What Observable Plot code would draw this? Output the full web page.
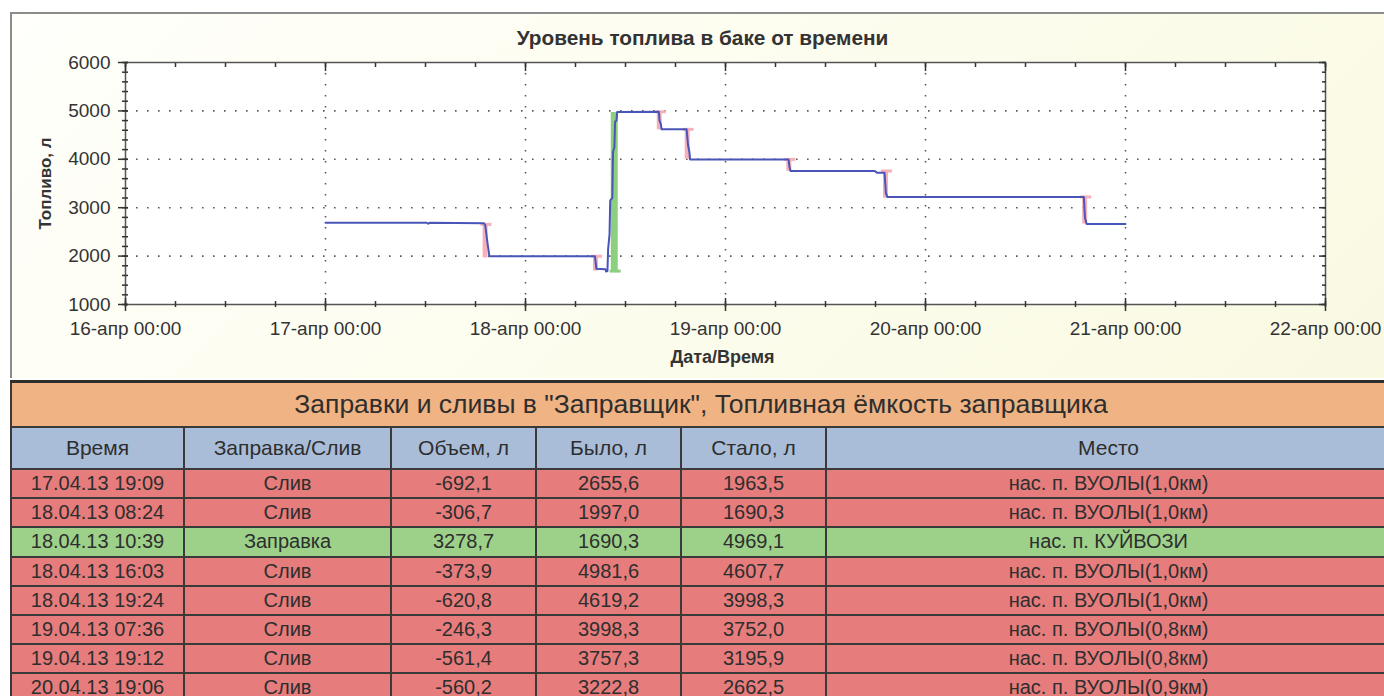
<!DOCTYPE html>
<html>
<head>
<meta charset="utf-8">
<script src="https://cdn.jsdelivr.net/npm/d3@7"></script>
<script src="https://cdn.jsdelivr.net/npm/@observablehq/plot@0.6"></script>
<style>
  html, body { margin: 0; padding: 0; background: #ffffff; }
  body { width: 1384px; height: 696px; position: relative; overflow: hidden; }
  #panel { position: absolute; left: 10px; top: 12px; width: 1380px; height: 366px;
    border-top: 2px solid #8c8c8c; border-left: 2px solid #8c8c8c; box-sizing: border-box;
    background: linear-gradient(135deg, #fffffb 0%, #fcfcec 60%, #f9f9e2 100%); }
  #chart { position: absolute; left: 0; top: 0; }
  #tbl { position: absolute; left: 10px; top: 380px; width: 1380px; border-collapse: collapse;
    table-layout: fixed; font-family: "Liberation Sans", Arial, sans-serif; color: #2e2e2e; }
  #tbl td, #tbl th { border: 2px solid #3a3a3a; padding: 0; text-align: center; font-weight: normal;
    white-space: nowrap; overflow: hidden; }
  #tbl .ttl td { background: #f0b383; height: 43px; font-size: 26.5px; border-top: 3px solid #2e2e2e; }
  #tbl .hdr th { background: #a9bdd8; height: 40px; font-size: 21px; }
  #tbl .row td { height: 27.2px; font-size: 20px; line-height: 27px; }
  #tbl .drain td { background: #e67c7c; }
  #tbl .fill td { background: #9dd18a; }
</style>
</head>
<body>
<div id="panel"></div>
<div id="chart"></div>
<table id="tbl"></table>
<script>
// ---------- chart texts ----------
const chartTitle = "Уровень топлива в баке от времени";
const yLabel = "Топливо, л";
const xLabel = "Дата/Время";

// ---------- axis ticks ----------
const xTickDates = ["2013-04-16T00:00", "2013-04-17T00:00", "2013-04-18T00:00", "2013-04-19T00:00",
                    "2013-04-20T00:00", "2013-04-21T00:00", "2013-04-22T00:00"];
const xTickLabels = ["16-апр 00:00", "17-апр 00:00", "18-апр 00:00", "19-апр 00:00",
                     "20-апр 00:00", "21-апр 00:00", "22-апр 00:00"];
const yTicks = [1000, 2000, 3000, 4000, 5000, 6000];
const yTickLabels = ["1000", "2000", "3000", "4000", "5000", "6000"];

// ---------- fuel level line ----------
const levelTimes = [
  "2013-04-17T00:00", "2013-04-17T12:10", "2013-04-17T12:20", "2013-04-17T12:30", "2013-04-17T19:00",
  "2013-04-17T19:10", "2013-04-17T19:25", "2013-04-17T19:40",
  "2013-04-18T08:20", "2013-04-18T08:30", "2013-04-18T09:35", "2013-04-18T09:40", "2013-04-18T09:50",
  "2013-04-18T09:55", "2013-04-18T10:05", "2013-04-18T10:10", "2013-04-18T10:25", "2013-04-18T10:30",
  "2013-04-18T10:40", "2013-04-18T10:45", "2013-04-18T10:55", "2013-04-18T11:00",
  "2013-04-18T16:00", "2013-04-18T16:05", "2013-04-18T16:15", "2013-04-18T16:20",
  "2013-04-18T19:20", "2013-04-18T19:30", "2013-04-18T19:40", "2013-04-18T19:45",
  "2013-04-19T07:34", "2013-04-19T07:40", "2013-04-19T07:48",
  "2013-04-19T17:55", "2013-04-19T18:10", "2013-04-19T19:05", "2013-04-19T19:15", "2013-04-19T19:25",
  "2013-04-20T19:00", "2013-04-20T19:08", "2013-04-20T19:20", "2013-04-21T00:00"
];
const levelValues = [
  2690, 2690, 2670, 2690, 2680,
  2640, 2300, 1997,
  1997, 1740, 1730, 1680, 1690,
  2150, 2450, 3150, 3200, 4150,
  4250, 4780, 4800, 4975,
  4981, 4800, 4720, 4620,
  4619, 4300, 4150, 3998,
  3998, 3850, 3757,
  3757, 3720, 3720, 3300, 3222.8,
  3222.8, 2800, 2662.5, 2662.5
];

// ---------- events table ----------
const tableTitle = "Заправки и сливы в \"Заправщик\", Топливная ёмкость заправщика";
const tableHeaders = ["Время", "Заправка/Слив", "Объем, л", "Было, л", "Стало, л", "Место"];
const eventLabels = ["17.04.13 19:09", "18.04.13 08:24", "18.04.13 10:39", "18.04.13 16:03",
                     "18.04.13 19:24", "19.04.13 07:36", "19.04.13 19:12", "20.04.13 19:06"];
const eventTimes = ["2013-04-17T19:09", "2013-04-18T08:24", "2013-04-18T10:39", "2013-04-18T16:03",
                    "2013-04-18T19:24", "2013-04-19T07:36", "2013-04-19T19:12", "2013-04-20T19:06"];
const eventKinds = ["Слив", "Слив", "Заправка", "Слив", "Слив", "Слив", "Слив", "Слив"];
const eventVolumes = [-692.1, -306.7, 3278.7, -373.9, -620.8, -246.3, -561.4, -560.2];
const eventBefore = [2655.6, 1997.0, 1690.3, 4981.6, 4619.2, 3998.3, 3757.3, 3222.8];
const eventAfter = [1963.5, 1690.3, 4969.1, 4607.7, 3998.3, 3752.0, 3195.9, 2662.5];
const eventPlaces = ["нас. п. ВУОЛЫ(1,0км)", "нас. п. ВУОЛЫ(1,0км)", "нас. п. КУЙВОЗИ",
                     "нас. п. ВУОЛЫ(1,0км)", "нас. п. ВУОЛЫ(1,0км)", "нас. п. ВУОЛЫ(0,8км)",
                     "нас. п. ВУОЛЫ(0,8км)", "нас. п. ВУОЛЫ(0,9км)"];

// ---------- build ----------
const parse = s => new Date(s);
const level = levelTimes.map((t, i) => ({t: parse(t), v: levelValues[i]}));
const events = eventTimes.map((t, i) => ({
  t: parse(t), kind: eventKinds[i], before: eventBefore[i], after: eventAfter[i]
}));
const drains = events.filter(e => e.kind === "Слив");
const fills = events.filter(e => e.kind === "Заправка");
const xMajor = xTickDates.map(parse);
const xMinor = d3.timeHour.every(6).range(xMajor[0], xMajor[xMajor.length - 1]).concat([xMajor[xMajor.length - 1]]);
const yMinor = d3.range(yTicks[0], yTicks[yTicks.length - 1] + 1, 200);
const xLabelOf = d => xTickLabels[xMajor.findIndex(m => +m === +d)];
const yLabelOf = d => yTickLabels[yTicks.indexOf(d)];
const capAfter = 50 * 60 * 1000, capBefore = 30 * 60 * 1000;
const gridDash = "1.6,9.4";

const chart = Plot.plot({
  width: 1384, height: 378,
  marginLeft: 125, marginRight: 59, marginTop: 62, marginBottom: 74,
  style: {background: "transparent", fontFamily: "'Liberation Sans', Arial, sans-serif", fontSize: "18px", color: "#333"},
  x: {type: "time", domain: [xMajor[0], xMajor[xMajor.length - 1]]},
  y: {domain: [yTicks[0], yTicks[yTicks.length - 1]]},
  marks: [
    Plot.frame({fill: "white", stroke: null}),
    Plot.gridY(yTicks.slice(1, -1), {stroke: "#5a5a5a", strokeOpacity: 1, strokeWidth: 1.6, strokeDasharray: gridDash}),
    Plot.gridX(xMajor.slice(1, -1), {stroke: "#5a5a5a", strokeOpacity: 1, strokeWidth: 1.6, strokeDasharray: gridDash}),
    // drain highlights
    Plot.ruleX(drains, {x: "t", y1: "before", y2: "after", stroke: "#f5b0ba", strokeWidth: 5}),
    Plot.ruleY(drains, {y: "before", x1: d => new Date(+d.t - capBefore), x2: d => new Date(+d.t + capAfter), stroke: "#f5b0ba", strokeWidth: 3}),
    // refuel highlight
    Plot.ruleX(fills, {x: "t", y1: "before", y2: "after", stroke: "#8ccf7e", strokeWidth: 7}),
    Plot.ruleY(fills, {y: "before", x1: d => new Date(+d.t - capBefore), x2: d => new Date(+d.t + capAfter), stroke: "#8ccf7e", strokeWidth: 3}),
    // level line
    Plot.line(level, {x: "t", y: "v", stroke: "#4a55b8", strokeWidth: 2}),
    Plot.frame({stroke: "#555", strokeWidth: 1.5}),
    // tick marks
    Plot.axisX(xMajor, {anchor: "bottom", tickSize: 13, dy: -6, text: null, stroke: "#333", strokeWidth: 1.5, label: null}),
    Plot.axisX(xMinor, {anchor: "bottom", tickSize: 6, dy: -3, text: null, stroke: "#333", strokeWidth: 1.5, label: null}),
    Plot.axisX(xMajor, {anchor: "top", tickSize: 8, dy: 8, text: null, stroke: "#333", strokeWidth: 1.5, label: null}),
    Plot.axisX(xMinor, {anchor: "top", tickSize: 4, dy: 4, text: null, stroke: "#333", strokeWidth: 1.5, label: null}),
    Plot.axisY(yTicks, {anchor: "left", tickSize: 10, dx: 3, text: null, stroke: "#333", strokeWidth: 1.5, label: null}),
    Plot.axisY(yMinor, {anchor: "left", tickSize: 6, dx: 3, text: null, stroke: "#333", strokeWidth: 1.5, label: null}),
    Plot.axisY(yTicks, {anchor: "right", tickSize: 7, dx: -7, text: null, stroke: "#333", strokeWidth: 1.5, label: null}),
    Plot.axisY(yMinor, {anchor: "right", tickSize: 4, dx: -4, text: null, stroke: "#333", strokeWidth: 1.5, label: null}),
    // tick labels
    Plot.axisX(xMajor, {anchor: "bottom", tickSize: 0, tickPadding: 17, tickFormat: xLabelOf, fill: "#333", fontSize: 19, label: null}),
    Plot.axisY(yTicks, {anchor: "left", tickSize: 0, tickPadding: 15, tickFormat: yLabelOf, fill: "#333", fontSize: 19, label: null}),
    // titles
    Plot.text([chartTitle], {text: d => d, frameAnchor: "top", lineAnchor: "middle", textAnchor: "middle", dy: -24, dx: -23, fontWeight: "bold", fontSize: 20.8, fill: "#333"}),
    Plot.text([xLabel], {text: d => d, frameAnchor: "bottom", lineAnchor: "middle", textAnchor: "middle", dy: 53, dx: -3, fontWeight: "bold", fontSize: 18, fill: "#333"}),
    Plot.text([yLabel], {text: d => d, frameAnchor: "left", lineAnchor: "middle", textAnchor: "middle", dx: -80, rotate: -90, fontWeight: "bold", fontSize: 17, fill: "#333"})
  ]
});
document.getElementById("chart").appendChild(chart);

// ---------- table ----------
const fmt = v => v.toFixed(1).replace(".", ",");
const colWidths = [173, 207, 145, 145, 145, 565];
const tbl = document.getElementById("tbl");
let html = "<colgroup>" + colWidths.map(w => `<col style="width:${w}px">`).join("") + "</colgroup>";
html += `<tr class="ttl"><td colspan="6">${tableTitle.replace(/"/g, "&quot;")}</td></tr>`;
html += `<tr class="hdr">${tableHeaders.map(h => `<th>${h}</th>`).join("")}</tr>`;
eventLabels.forEach((lab, i) => {
  const cls = eventKinds[i] === "Заправка" ? "fill" : "drain";
  const cells = [lab, eventKinds[i], fmt(eventVolumes[i]), fmt(eventBefore[i]), fmt(eventAfter[i]), eventPlaces[i]];
  html += `<tr class="row ${cls}">${cells.map(c => `<td>${c}</td>`).join("")}</tr>`;
});
tbl.innerHTML = html;
</script>
</body>
</html>
